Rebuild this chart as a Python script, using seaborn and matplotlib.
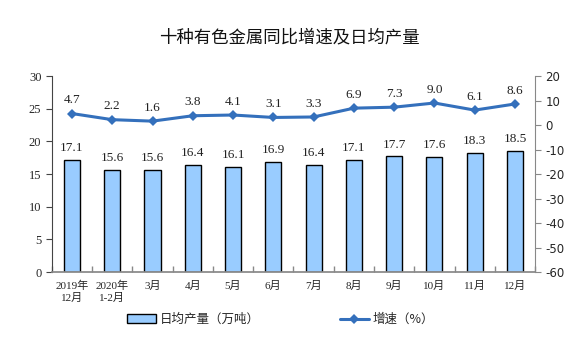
import matplotlib
matplotlib.use("Agg")
import matplotlib.pyplot as plt
import seaborn as sns
import pandas as pd
import numpy as np
from matplotlib.patches import Patch
from matplotlib.lines import Line2D

months = ["2019年\n12月", "2020年\n1-2月", "3月", "4月", "5月", "6月",
          "7月", "8月", "9月", "10月", "11月", "12月"]
daily_output = [17.1, 15.6, 15.6, 16.4, 16.1, 16.9, 16.4, 17.1, 17.7, 17.6, 18.3, 18.5]
growth = [4.7, 2.2, 1.6, 3.8, 4.1, 3.1, 3.3, 6.9, 7.3, 9.0, 6.1, 8.6]

sns.set_theme(style="white")
plt.rcParams["font.family"] = ["Liberation Serif", "Noto Sans CJK SC"]
plt.rcParams["axes.unicode_minus"] = False

df = pd.DataFrame({"month": months, "output": daily_output, "growth": growth})

fig = plt.figure(figsize=(5.76, 3.38), dpi=100)
ax = fig.add_axes([0.090, 0.195, 0.839, 0.580])

bar_color = "#99CCFF"
line_color = "#3470BC"

# Daily output bars on the left axis
sns.barplot(data=df, x="month", y="output", ax=ax, color=bar_color,
            width=0.4, edgecolor="black", linewidth=1.0, saturation=1)
for i, v in enumerate(daily_output):
    ax.text(i, v + 0.9, f"{v:.1f}", ha="center", va="bottom", fontsize=9.5,
            color="#222222")

ax.set_ylim(0, 30)
ax.set_yticks(range(0, 31, 5))
ax.set_xlim(-0.5, len(months) - 0.5)
ax.set_xlabel("")
ax.set_ylabel("")
ax.tick_params(axis="y", labelsize=9, length=4, direction="out", left=True,
               color="#444444", width=0.8)
ax.tick_params(axis="x", labelsize=8, length=0, pad=6)
ax.set_xticks(np.arange(-0.5, len(months), 1.0), minor=True)
ax.tick_params(axis="x", which="minor", length=4, direction="in",
               color="#888888", bottom=True)

for side in ["top", "right"]:
    ax.spines[side].set_visible(False)
ax.spines["left"].set_color("#444444")
ax.spines["bottom"].set_color("#888888")
ax.spines["left"].set_linewidth(0.8)

# Year-on-year growth line on the right axis
ax2 = ax.twinx()
sns.lineplot(x=np.arange(len(months)), y=growth, ax=ax2, color=line_color,
             linewidth=2.2, marker="D", markersize=5, markeredgewidth=0)
for i, v in enumerate(growth):
    ax2.text(i, v + 3.0, f"{v:.1f}", ha="center", va="bottom", fontsize=9.5,
             color="#222222")
ax2.set_ylim(-60, 20)
ax2.set_yticks(range(-60, 21, 10))
ax2.set_yticklabels([str(t) for t in range(-60, 21, 10)],
                    family="DejaVu Sans")
ax2.tick_params(axis="y", labelsize=8.5, length=4, direction="out", right=True,
                color="#888888", width=0.8)
for side in ["top", "left", "bottom"]:
    ax2.spines[side].set_visible(False)
ax2.spines["right"].set_color("#888888")
ax2.spines["right"].set_linewidth(0.8)
ax2.grid(False)
ax.grid(False)

fig.text(0.503, 0.89, "十种有色金属同比增速及日均产量", ha="center", va="center",
         fontsize=12.5, family=["Noto Sans CJK SC"], color="#111111")

handles = [
    Patch(facecolor=bar_color, edgecolor="black", linewidth=1.0),
    Line2D([0], [0], color=line_color, linewidth=2.2, marker="D",
           markersize=5, markeredgewidth=0),
]
labels = ["日均产量（万吨）", "增速（%）"]
fig.legend(handles, labels, loc="center", bbox_to_anchor=(0.487, 0.055), ncol=2,
           frameon=False, columnspacing=6.4, handlelength=2.3,
           handletextpad=0.3, prop={"family": ["Noto Sans CJK SC"], "size": 9})

fig.savefig("out.png", dpi=100, facecolor="white")
